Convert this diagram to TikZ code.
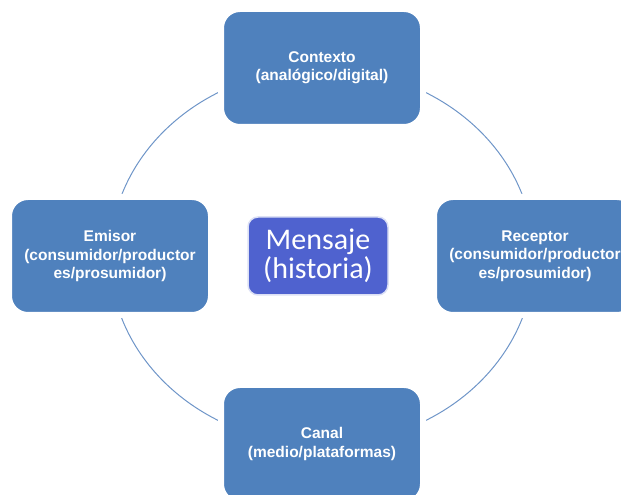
\documentclass[tikz,border=0pt]{standalone}
\usepackage{fontspec}
\setmainfont{Liberation Sans}
\newfontfamily\msgfont{Carlito}
\usepackage{tikz}
\definecolor{BoxBlue}{HTML}{4F81BD}
\definecolor{MsgBlue}{HTML}{4F62CF}
\definecolor{RingBlue}{HTML}{6E95C8}

\begin{document}
\begin{tikzpicture}[
 x=1pt,y=1pt,
 box/.style={draw=white,line width=6pt,rounded corners=19pt,fill=BoxBlue,align=center,minimum width=202pt,minimum height=118pt,inner sep=0pt,font=\fontsize{15.5}{18.3}\selectfont\bfseries,text=white},
 msgbox/.style={draw=white!80!MsgBlue,line width=1.5pt,rounded corners=10pt,fill=MsgBlue,align=center,minimum width=140pt,minimum height=78pt,inner sep=0pt,font=\msgfont\fontsize{30}{29}\selectfont,text=white},
 ring/.style={draw=RingBlue,line width=1pt}
]
\useasboundingbox (0,0) rectangle (621,495);
\draw[ring] (322,238.5) ellipse [x radius=212,y radius=188];
\node[box] (ctx) at (322,427) {Contexto\\(analógico/digital)};
\node[box] (emi) at (110,239) {Emisor\\(consumidor/productor\\es/prosumidor)};
\node[box] (rec) at (535,239) {Receptor\\(consumidor/productor\\es/prosumidor)};
\node[box] (can) at (322,51) {Canal\\(medio/plataformas)};
\node[msgbox] (msg) at (318,239) {Mensaje\\(historia)};
\end{tikzpicture}
\end{document}
